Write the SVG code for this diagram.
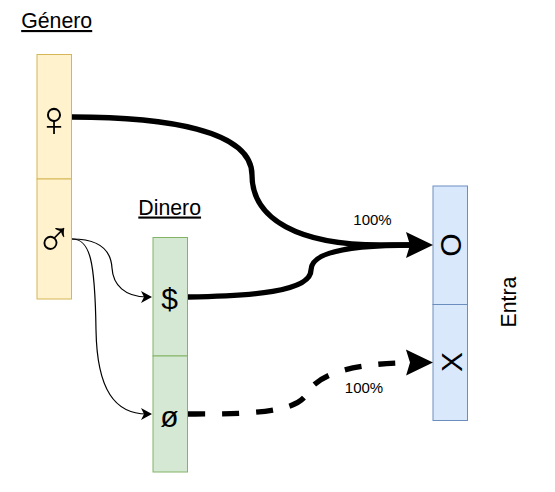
<svg xmlns="http://www.w3.org/2000/svg" width="555" height="492" viewBox="0 0 555 492">
<style>
.t{font-family:"Liberation Sans",Arial,sans-serif;fill:#000}
.s{font-family:"Liberation Sans",sans-serif;fill:#000}
.y{fill:#fff2cc;stroke:#d6b656;stroke-width:1}
.g{fill:#d5e8d4;stroke:#82b366;stroke-width:1}
.b{fill:#dae8fc;stroke:#6c8ebf;stroke-width:1}
.c{fill:none;stroke:#000}
</style>
<defs>
<marker id="big" markerUnits="userSpaceOnUse" markerWidth="30" markerHeight="30" refX="10" refY="15" orient="auto" overflow="visible"><path d="M0 2 L27 15 L0 28 L4 15 Z" fill="#000"/></marker>
<marker id="sm" markerUnits="userSpaceOnUse" markerWidth="12" markerHeight="12" refX="6" refY="6" orient="auto" overflow="visible"><path d="M0 0 L11 6 L0 12 L3 6 Z" fill="#000"/></marker>
</defs>
<g id="genero">
<rect class="y" x="37" y="54.500" width="34.500" height="124.500"/>
<rect class="y" x="37" y="179" width="34.500" height="120"/>
<text class="t" x="56.700" y="28" font-size="21.300" text-anchor="middle" text-decoration="underline">Género</text>
<text class="s" x="54" y="136" font-size="50" text-anchor="middle">♀</text>
<text class="s" x="54" y="256" font-size="50" text-anchor="middle">♂</text>
</g>
<g id="dinero">
<rect class="g" x="153" y="237.500" width="34.500" height="118.500"/>
<rect class="g" x="153" y="356" width="34.500" height="116"/>
<text class="t" x="169.700" y="214.500" font-size="21.300" text-anchor="middle" text-decoration="underline">Dinero</text>
<text class="t" x="169.500" y="309" font-size="30" text-anchor="middle">$</text>
<text class="t" x="169.500" y="427" font-size="30" text-anchor="middle">ø</text>
</g>
<g id="entra">
<rect class="b" x="433" y="186" width="34.500" height="118.500"/>
<rect class="b" x="433" y="304.500" width="34.500" height="116"/>
<text class="t" font-size="30" text-anchor="middle" transform="translate(461,245) rotate(-90)">O</text>
<text class="t" font-size="30" text-anchor="middle" transform="translate(461.500,362) rotate(-90)">X</text>
<text class="t" font-size="21.300" text-anchor="middle" transform="translate(516,302) rotate(-90)">Entra</text>
</g>
<g id="connectors">
<path class="c" stroke-width="5.300" d="M72 117 C165 117 252 130 252 175 C252 220 300 245 380 245 L416 245" marker-end="url(#big)"/>
<path class="c" stroke-width="5.300" d="M188 297 C250 296 311 292 311 270 C311 250 360 245 414 245"/>
<path class="c" stroke-width="5.300" stroke-dasharray="17 17" d="M188 414 C240 414 294 414 306 395 C316 376 345 363 416 362.500" marker-end="url(#big)"/>
<path class="c" stroke-width="1.200" d="M72 239 C100 239 111 250 112 268 C113 285 125 297 147 297" marker-end="url(#sm)"/>
<path class="c" stroke-width="1.200" d="M72 239 C90 239 95 260 96 330 C97 390 115 414 147 414" marker-end="url(#sm)"/>
<text class="t" x="372.500" y="225" font-size="15" text-anchor="middle">100%</text>
<text class="t" x="364" y="393" font-size="15" text-anchor="middle">100%</text>
</g>
</svg>
